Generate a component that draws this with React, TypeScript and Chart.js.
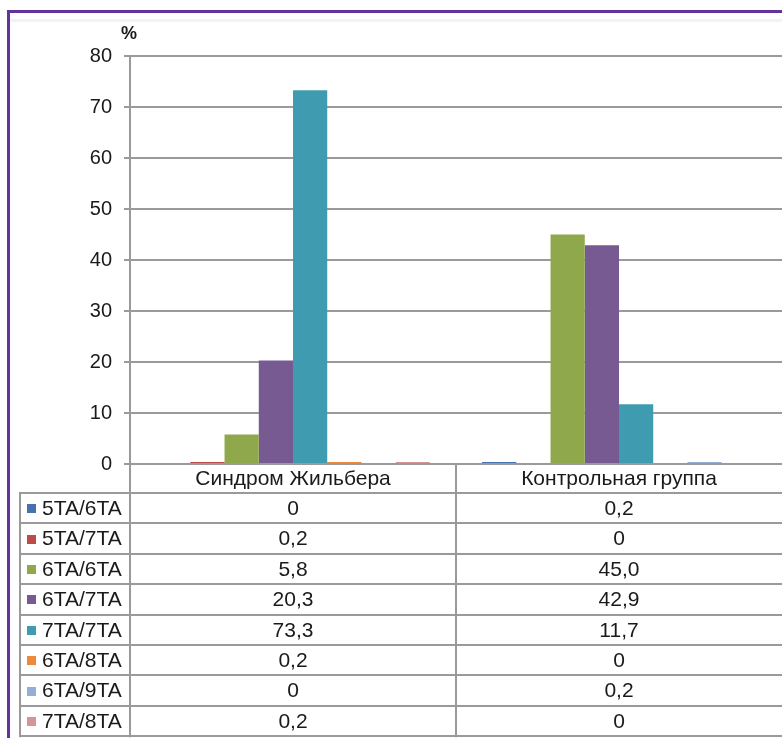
import React, { useEffect, useRef } from "react";
import { Chart, registerables } from "chart.js";

Chart.register(...registerables);

const categories = ["Синдром Жильбера", "Контрольная группа"];
const seriesNames = ["5TA/6TA", "5TA/7TA", "6TA/6TA", "6TA/7TA", "7TA/7TA", "6TA/8TA", "6TA/9TA", "7TA/8TA"];
const gilbertValues = [0, 0.2, 5.8, 20.3, 73.3, 0.2, 0, 0.2];
const controlValues = [0.2, 0, 45.0, 42.9, 11.7, 0, 0.2, 0];
const gilbertLabels = ["0", "0,2", "5,8", "20,3", "73,3", "0,2", "0", "0,2"];
const controlLabels = ["0,2", "0", "45,0", "42,9", "11,7", "0", "0,2", "0"];
const seriesColors = ["#4573B0", "#BE4B48", "#8EA84B", "#765A91", "#3F9CB0", "#EB8A3C", "#94AED5", "#D69494"];
const yMin = 0;
const yMax = 80;
const yStep = 10;
const yUnit = "%";

const FONT = "'Liberation Sans', Arial, sans-serif";
const LINE = "#9a9a9a";
const TEXT = "#1a1a1a";

const tablePlugin = {
  id: "dataTable",
  beforeDraw(chart: any) {
    const ctx = chart.ctx;
    ctx.save();
    ctx.fillStyle = "#ffffff";
    ctx.fillRect(0, 0, chart.width, chart.height);
    ctx.fillStyle = "#f3f3f3";
    ctx.fillRect(10, 19, chart.width - 10, 3);
    ctx.restore();
  },
  afterDraw(chart: any) {
    const ctx = chart.ctx;
    const area = chart.chartArea;
    const xs = chart.scales.x;
    const p0 = xs.getPixelForValue(0);
    const p1 = xs.getPixelForValue(1);
    const boundary = (p0 + p1) / 2;
    const colBounds = [area.left, boundary, area.right];
    const tableLeft = 20;
    const headerTop = area.bottom;
    const headerBottom = 493;
    const rowH = 30.4;
    const nRows = seriesNames.length;
    const tableBottom = headerBottom + rowH * nRows;

    ctx.save();
    ctx.strokeStyle = LINE;
    ctx.lineWidth = 2;
    for (let i = 0; i <= nRows; i++) {
      const y = Math.round(headerBottom + i * rowH);
      ctx.beginPath();
      ctx.moveTo(tableLeft - 1, y);
      ctx.lineTo(area.right, y);
      ctx.stroke();
    }
    const vline = (x: number, y1: number, y2: number) => {
      const xx = Math.round(x);
      ctx.beginPath();
      ctx.moveTo(xx, y1);
      ctx.lineTo(xx, y2);
      ctx.stroke();
    };
    vline(tableLeft, headerBottom, tableBottom + 1);
    vline(area.left, headerTop, tableBottom + 1);
    vline(boundary, headerTop, tableBottom + 1);

    ctx.fillStyle = TEXT;
    ctx.font = `21px ${FONT}`;
    ctx.textBaseline = "middle";
    ctx.textAlign = "center";
    for (let c = 0; c < categories.length; c++) {
      const cx = (colBounds[c] + colBounds[c + 1]) / 2;
      ctx.fillText(categories[c], cx, (headerTop + headerBottom) / 2 + 1);
    }
    const cols = [gilbertLabels, controlLabels];
    for (let r = 0; r < nRows; r++) {
      const cy = headerBottom + r * rowH + rowH / 2 + 1;
      ctx.fillStyle = seriesColors[r];
      ctx.fillRect(27, Math.round(cy - 5), 9, 9);
      ctx.fillStyle = TEXT;
      ctx.textAlign = "left";
      ctx.fillText(seriesNames[r], 42, cy);
      ctx.textAlign = "center";
      for (let c = 0; c < cols.length; c++) {
        const cx = (colBounds[c] + colBounds[c + 1]) / 2;
        ctx.fillText(cols[c][r], cx, cy);
      }
    }
    ctx.font = `bold 18px ${FONT}`;
    ctx.textAlign = "center";
    ctx.fillText(yUnit, 129, 34);

    ctx.fillStyle = "#62339d";
    ctx.fillRect(7, 10, chart.width - 7, 3);
    ctx.fillRect(7, 10, 3, chart.height - 10);
    ctx.restore();
  },
};

export default function App() {
  const ref = useRef<HTMLCanvasElement | null>(null);
  useEffect(() => {
    if (!ref.current) return;
    const chart = new Chart(ref.current, {
      type: "bar",
      data: {
        labels: categories,
        datasets: seriesNames.map((name, i) => ({
          label: name,
          // zero values are not drawn (as in the source), tiny values keep a visible sliver
          data: [gilbertValues[i] || null, controlValues[i] || null],
          backgroundColor: seriesColors[i],
          borderWidth: 0,
          minBarLength: 2,
          categoryPercentage: 0.84,
          barPercentage: 1,
        })),
      },
      options: {
        animation: false,
        responsive: false,
        devicePixelRatio: 1,
        layout: { padding: { top: 56, left: 0, right: 0, bottom: 738 - 464 } },
        plugins: { legend: { display: false }, tooltip: { enabled: false } },
        scales: {
          x: { display: false },
          y: {
            min: yMin,
            max: yMax,
            afterFit: (s: any) => {
              s.width = 130;
            },
            ticks: {
              stepSize: yStep,
              padding: 12,
              color: TEXT,
              font: { family: FONT, size: 20 },
            },
            grid: { color: LINE, lineWidth: 2, tickLength: 6 },
            border: { color: LINE, width: 2 },
          },
        },
      },
      plugins: [tablePlugin],
    });
    return () => chart.destroy();
  }, []);
  return (
    <div style={{ position: "absolute", left: 0, top: 0, width: 782, height: 738 }}>
      <canvas ref={ref} width={782} height={738} style={{ display: "block", width: 782, height: 738 }} />
    </div>
  );
}
